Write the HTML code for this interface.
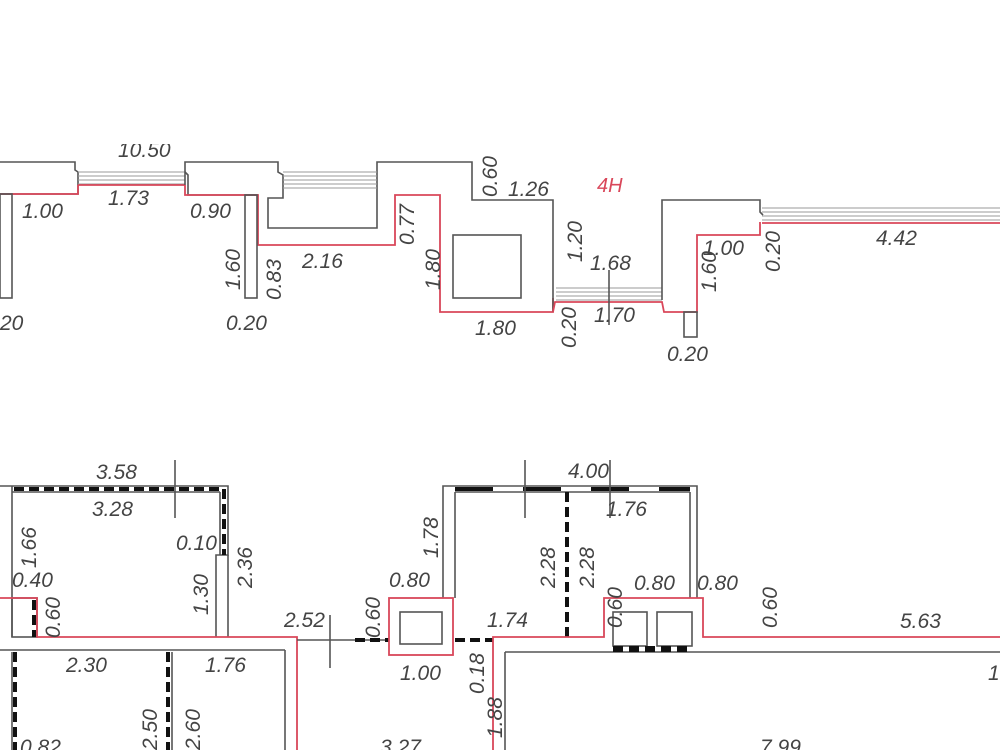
<!DOCTYPE html>
<html><head><meta charset="utf-8"><style>
html,body{margin:0;padding:0;background:#fff;}
svg{display:block}
text{font-family:"Liberation Sans",sans-serif;font-style:italic;fill:#444;font-size:21px;}
.g{stroke:#555;stroke-width:1.6;fill:none}
.r{stroke:#d9475a;stroke-width:1.8;fill:none}
.w{stroke:#999;stroke-width:1;fill:none}
.d{stroke:#111;stroke-width:4;stroke-dasharray:10 5;fill:none}
</style></head><body>
<svg width="1000" height="750" viewBox="0 0 1000 750" xmlns="http://www.w3.org/2000/svg">
<!-- TOP SECTION -->
<text x="118" y="157">10.50</text>
<rect x="100" y="128" width="100" height="16" fill="#fff"/>
<polyline class="g" points="0,162 75,162 75,170 78,172 78,194 0,194"/>
<polyline class="r" points="0,194 78,194 78,185"/>
<rect class="g" x="0" y="194" width="12" height="104"/>
<g class="w"><line x1="78" y1="172" x2="185" y2="172"/><line x1="78" y1="176" x2="185" y2="176"/><line x1="78" y1="180" x2="185" y2="180"/><line x1="78" y1="184" x2="185" y2="184"/></g>
<line class="r" x1="78" y1="185" x2="185" y2="185"/>
<polyline class="g" points="185,185 185,162 278,162 278,172 283,175 283,198 268,198 268,228 377,228 377,162 472,162 472,200 553,200 553,298"/>
<polyline class="g" points="185,172 188,175 188,195 258,195"/>
<polyline class="r" points="185,185 185,195 258,195 258,245 395,245 395,195 440,195 440,312 553,312 553,298"/>
<rect class="g" x="245" y="195" width="12" height="103"/>
<g class="w"><line x1="283" y1="172" x2="377" y2="172"/><line x1="283" y1="176" x2="377" y2="176"/><line x1="283" y1="180" x2="377" y2="180"/><line x1="283" y1="184" x2="377" y2="184"/><line x1="283" y1="188" x2="377" y2="188"/></g>
<rect class="g" x="453" y="235" width="68" height="63"/>
<line class="g" x1="553" y1="298" x2="553" y2="312"/>
<g class="w"><line x1="556" y1="288" x2="662" y2="288"/><line x1="556" y1="292" x2="662" y2="292"/><line x1="556" y1="296" x2="662" y2="296"/><line x1="556" y1="300" x2="662" y2="300"/></g>
<polyline class="r" points="553,312 555,302 662,302 664,312 697,312 697,235 760,235 760,222"/>
<polyline class="g" points="662,300 662,200 760,200 760,212 763,215"/>
<rect class="g" x="684" y="312" width="13" height="25"/>
<line class="g" x1="609" y1="270" x2="609" y2="325"/>
<g class="w"><line x1="762" y1="208" x2="1000" y2="208"/><line x1="762" y1="212" x2="1000" y2="212"/><line x1="762" y1="216" x2="1000" y2="216"/><line x1="762" y1="220" x2="1000" y2="220"/></g>
<line class="r" x1="762" y1="223" x2="1000" y2="223"/>
<text x="597" y="192" style="fill:#d9475a;font-size:20px">4H</text>
<text x="22" y="218">1.00</text>
<text x="108" y="205">1.73</text>
<text x="190" y="218">0.90</text>
<text x="302" y="268">2.16</text>
<text x="508" y="196">1.26</text>
<text x="475" y="335">1.80</text>
<text x="590" y="270">1.68</text>
<text x="594" y="322">1.70</text>
<text x="703" y="255">1.00</text>
<text x="876" y="245">4.42</text>
<text x="0" y="330">20</text>
<text x="226" y="330">0.20</text>
<text x="667" y="361">0.20</text>
<text transform="translate(497,197) rotate(-90)">0.60</text>
<text transform="translate(414,245) rotate(-90)">0.77</text>
<text transform="translate(240,290) rotate(-90)">1.60</text>
<text transform="translate(281,300) rotate(-90)">0.83</text>
<text transform="translate(440,290) rotate(-90)">1.80</text>
<text transform="translate(582,262) rotate(-90)">1.20</text>
<text transform="translate(576,348) rotate(-90)">0.20</text>
<text transform="translate(716,292) rotate(-90)">1.60</text>
<text transform="translate(780,272) rotate(-90)">0.20</text>

<!-- BOTTOM SECTION -->
<polyline class="g" points="0,486 228,486 228,555 216,555 216,637"/>
<line class="g" x1="228" y1="555" x2="228" y2="637"/>
<line class="g" x1="12" y1="486" x2="12" y2="637"/>
<line class="g" x1="12" y1="492" x2="220" y2="492"/>
<line class="g" x1="220" y1="492" x2="220" y2="555"/>
<line class="d" x1="14" y1="489" x2="222" y2="489"/>
<line class="d" x1="224" y1="489" x2="224" y2="555"/>
<rect x="12" y="598" width="25" height="39" class="g"/>
<line class="d" x1="34" y1="600" x2="34" y2="637"/>
<polyline class="r" points="0,598 37,598 37,637 297,637 297,750"/>
<line class="g" x1="0" y1="650" x2="285" y2="650"/>
<line class="g" x1="285" y1="650" x2="285" y2="750"/>
<line class="d" x1="15" y1="652" x2="15" y2="750"/>
<line class="d" x1="168" y1="652" x2="168" y2="750"/>
<line class="g" x1="12" y1="652" x2="12" y2="750"/>
<line class="g" x1="172" y1="652" x2="172" y2="750"/>
<line class="g" x1="175" y1="460" x2="175" y2="518"/>
<line class="g" x1="330" y1="615" x2="330" y2="668"/>
<line class="g" x1="297" y1="640" x2="389" y2="640"/>
<line class="d" x1="355" y1="640" x2="389" y2="640"/>
<polyline class="g" points="443,598 443,486 697,486 697,598"/>
<line class="g" x1="455" y1="492" x2="455" y2="598"/>
<line class="g" x1="455" y1="492" x2="690" y2="492"/>
<line class="g" x1="690" y1="492" x2="690" y2="598"/>
<line class="d" x1="455" y1="489" x2="690" y2="489" style="stroke-dasharray:38 30"/>
<line class="d" x1="567" y1="492" x2="567" y2="637"/>
<line class="g" x1="525" y1="460" x2="525" y2="518"/>
<line class="g" x1="610" y1="460" x2="610" y2="518"/>
<rect class="r" x="389" y="598" width="64" height="57"/>
<rect class="g" x="400" y="612" width="42" height="32"/>
<line class="d" x1="455" y1="640" x2="493" y2="640"/>
<polyline class="r" points="493,750 493,637 604,637 604,598 703,598 703,637 1000,637"/>
<line class="g" x1="505" y1="750" x2="505" y2="652"/>
<line class="g" x1="505" y1="652" x2="1000" y2="652"/>
<rect class="g" x="613" y="612" width="34" height="34"/>
<rect class="g" x="657" y="612" width="35" height="34"/>
<line x1="613" y1="649" x2="692" y2="649" style="stroke:#111;stroke-width:6;stroke-dasharray:10 6"/>
<text x="96" y="479">3.58</text>
<text x="92" y="516">3.28</text>
<text x="176" y="550">0.10</text>
<text x="12" y="587">0.40</text>
<text x="66" y="672">2.30</text>
<text x="205" y="672">1.76</text>
<text x="284" y="627">2.52</text>
<text x="389" y="587">0.80</text>
<text x="400" y="680">1.00</text>
<text x="487" y="627">1.74</text>
<text x="568" y="478">4.00</text>
<text x="606" y="516">1.76</text>
<text x="634" y="590">0.80</text>
<text x="697" y="590">0.80</text>
<text x="900" y="628">5.63</text>
<text x="20" y="754">0.82</text>
<text x="380" y="754">3.27</text>
<text x="760" y="754">7.99</text>
<text x="988" y="680">1</text>
<text transform="translate(36,568) rotate(-90)">1.66</text>
<text transform="translate(60,638) rotate(-90)">0.60</text>
<text transform="translate(208,615) rotate(-90)">1.30</text>
<text transform="translate(252,588) rotate(-90)">2.36</text>
<text transform="translate(380,638) rotate(-90)">0.60</text>
<text transform="translate(438,558) rotate(-90)">1.78</text>
<text transform="translate(484,694) rotate(-90)">0.18</text>
<text transform="translate(502,738) rotate(-90)">1.88</text>
<text transform="translate(555,588) rotate(-90)">2.28</text>
<text transform="translate(594,588) rotate(-90)">2.28</text>
<text transform="translate(622,628) rotate(-90)">0.60</text>
<text transform="translate(777,628) rotate(-90)">0.60</text>
<text transform="translate(157,750) rotate(-90)">2.50</text>
<text transform="translate(200,750) rotate(-90)">2.60</text>
</svg>
</body></html>
